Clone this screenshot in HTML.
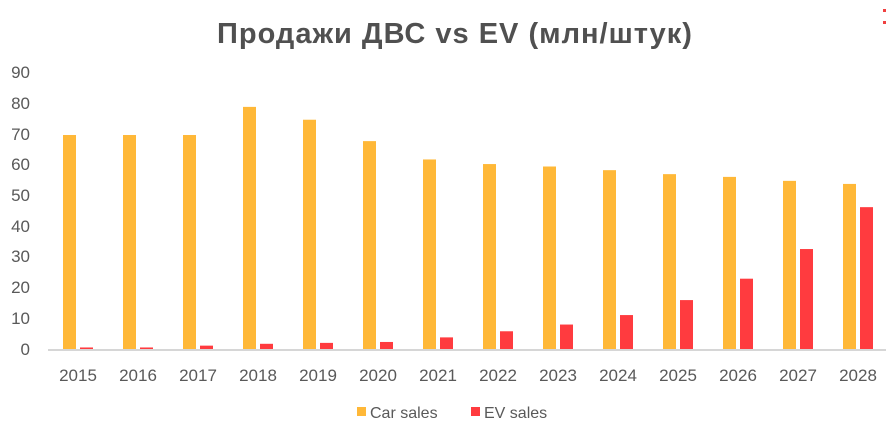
<!DOCTYPE html>
<html><head><meta charset="utf-8"><style>
body{margin:0;background:#fff;}
svg text{font-family:"Liberation Sans",sans-serif;fill:#595959;}
</style></head><body>
<svg width="886" height="433" xmlns="http://www.w3.org/2000/svg">
<rect width="886" height="433" fill="#fff"/>
<text x="455" y="43" text-anchor="middle" font-size="29" font-weight="bold" letter-spacing="1" style="fill:#505050">Продажи ДВС vs EV (млн/штук)</text>
<rect x="883" y="9" width="3" height="3" fill="#f04040"/>
<rect x="883" y="21" width="3" height="3" fill="#f04040"/>
<g font-size="17" text-anchor="end">
<text x="30" y="78">90</text><text x="30" y="109">80</text><text x="30" y="140">70</text>
<text x="30" y="170">60</text><text x="30" y="201">50</text><text x="30" y="232">40</text>
<text x="30" y="262">30</text><text x="30" y="293">20</text><text x="30" y="324">10</text>
<text x="30" y="355">0</text>
</g>
<g id="bars"></g>
<rect x="48" y="349" width="838" height="2" fill="#d6d6d6"/>
<g id="labels" font-size="17" text-anchor="middle"></g>
<rect x="357" y="407" width="9" height="9" fill="#ffb838"/>
<text x="370" y="418" font-size="16">Car sales</text>
<rect x="471" y="407" width="9" height="9" fill="#ff3b3f"/>
<text x="484" y="418" font-size="16">EV sales</text>
<script>
var car=[70,70,70,79.2,75,68,62,60.5,59.7,58.5,57.2,56.3,55,54];
var ev=[0.5,0.5,1.1,1.7,2,2.3,3.8,5.8,8,11.1,16,23,32.7,46.4];
var s=3.057,b=349,ns="http://www.w3.org/2000/svg";
var g=document.getElementById('bars'),l=document.getElementById('labels');
for(var i=0;i<14;i++){
 var x=63+i*60;
 var r=document.createElementNS(ns,'rect');r.setAttribute('x',x);r.setAttribute('width',13);
 r.setAttribute('y',b-car[i]*s);r.setAttribute('height',car[i]*s);r.setAttribute('fill','#ffb838');g.appendChild(r);
 r=document.createElementNS(ns,'rect');r.setAttribute('x',x+17);r.setAttribute('width',13);
 r.setAttribute('y',b-ev[i]*s);r.setAttribute('height',ev[i]*s);r.setAttribute('fill','#ff3b3f');g.appendChild(r);
 var t=document.createElementNS(ns,'text');t.setAttribute('x',x+15);t.setAttribute('y',381);t.textContent=2015+i;l.appendChild(t);
}
</script>
</svg>
</body></html>
